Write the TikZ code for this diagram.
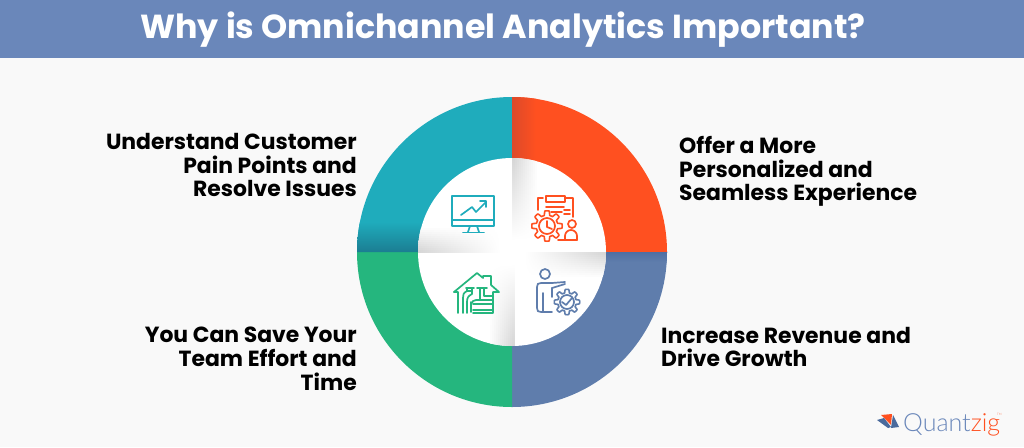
\documentclass[tikz,border=0pt]{standalone}
\usepackage{fontspec}
\setmainfont{Poppins}
\newfontfamily\logofont{Lato Light}
\usetikzlibrary{calc}
\definecolor{bgc}{HTML}{F9F9F9}
\definecolor{headc}{HTML}{6A87BA}
\definecolor{tealc}{HTML}{1FACBC}
\definecolor{orangec}{HTML}{FF5020}
\definecolor{greenc}{HTML}{25B67E}
\definecolor{bluec}{HTML}{5F7DAC}
\definecolor{tealdark}{HTML}{1B7D92}
\definecolor{orangedark}{HTML}{DC4A2A}
\definecolor{bluedark}{HTML}{4F6FA3}
\definecolor{logoblue}{HTML}{4A6A9C}
\tikzset{
  x=1pt,y=-1pt,
  title/.style={font=\bfseries\fontsize{33.3}{40}\selectfont,text=white,inner sep=0pt},
  lab/.style={font=\bfseries\fontsize{21.9}{23.8}\selectfont,text=black,inner sep=0pt},
  ico/.style={line width=1.7pt,line cap=round,line join=round,fill=none},
}
\begin{document}
\begin{tikzpicture}
\useasboundingbox (0,0) rectangle (1024,447);
\fill[bgc] (0,0) rectangle (1024,447);
\fill[headc] (0,0) rectangle (1024,58);
\node[title] (t) at (503,29.5) {Why is Omnichannel Analytics Important?};
% outer quadrants (the y axis points down, so angles run clockwise)
\coordinate (c) at (512,252);
\fill[tealc] (c) -- (357,252) arc[start angle=180,end angle=270,radius=155] -- cycle;
\fill[orangec] (c) -- (512,97) arc[start angle=270,end angle=360,radius=155] -- cycle;
\fill[bluec] (c) -- (667,252) arc[start angle=0,end angle=90,radius=155] -- cycle;
\fill[greenc] (c) -- (512,407) arc[start angle=90,end angle=180,radius=155] -- cycle;
% shades on coloured parts
\begin{scope}
\clip (c) -- (357,252) arc[start angle=180,end angle=270,radius=155] -- cycle;
\shade[top color=tealc,bottom color=tealdark] (357,222) rectangle (512,252);
\end{scope}
\begin{scope}
\clip (c) -- (512,97) arc[start angle=270,end angle=360,radius=155] -- cycle;
\shade[left color=orangedark,right color=orangec] (512,97) rectangle (536,252);
\end{scope}
\begin{scope}
\clip (c) -- (667,252) arc[start angle=0,end angle=90,radius=155] -- cycle;
\shade[top color=bluedark,bottom color=bluec] (512,252) rectangle (667,262);
\end{scope}
% inner disc
\fill[white] (c) circle[radius=94];
\begin{scope}
\clip (c) circle[radius=94];
\foreach \k in {0,...,11}{
  \pgfmathsetmacro\g{16*(\k+1)/12}
  \shade[left color=black!\g,right color=white] (418,{228+2*\k}) rectangle (500,{230.4+2*\k});
  \shade[left color=white,right color=black!\g] (524,{274-2*\k}) rectangle (606,{276.4-2*\k});
  \shade[top color=black!\g,bottom color=white] ({534-2*\k},158) rectangle ({536.4-2*\k},240);
  \shade[top color=white,bottom color=black!\g] ({490+2*\k},264) rectangle ({492.4+2*\k},346);
}
\end{scope}
% labels
\node[lab,anchor=east,align=right] (a) at (357,165) {Understand Customer\\Pain Points and\\Resolve Issues};
\node[lab,anchor=west,align=left] (b) at (679,171.5) {Offer a More\\Personalized and\\Seamless Experience};
\node[lab,anchor=west,align=left] (d) at (661,347) {Increase Revenue and\\Drive Growth};
\node[lab,anchor=east,align=right] (e) at (357,359) {You Can Save Your\\Team Effort and\\Time};
% monitor icon
\begin{scope}[tealc,ico]
\draw (452,196) rectangle (494,226);
\draw (452,220) -- (494,220);
\draw (470,226) -- (468,232) (477,226) -- (479,232);
\draw (463,232.5) -- (484,232.5);
\draw (461,215) -- (472,207) -- (476,212) -- (486,202);
\draw (480,201) -- (486,201) -- (486,207);
\end{scope}
% clipboard, gear, person icon
\begin{scope}[orangec,ico]
\draw (543,198) -- (538,198) -- (538,210);
\draw (546,196) rectangle (565,202);
\draw (565,198) -- (573,198) -- (573,217);
\draw (546,207) -- (564,207);
\draw (551,212) -- (562,212) (564,210) -- (570,210) (564,214) -- (570,214);
\draw[shift={(547,226)},line width=1.6pt] plot[domain=0:360,samples=145] (\x:{13+2.2*min(1,max(-1,2.5*cos(8*\x)))}) -- cycle;
\draw (547,226) circle[radius=8];
\draw (547,221) -- (547,227) -- (552,229);
\draw (572,224) circle[radius=4];
\draw (565,240) -- (565,236) arc[start angle=180,end angle=360,radius=6] -- (577,240);
\draw (558,240) -- (577,240);
\end{scope}
% house icon
\begin{scope}[greenc,ico]
\draw (454,292) -- (477,273) -- (483,278) -- (483,276) -- (491,276) -- (491,285) -- (499,292) -- (493,292) -- (493,313) -- (473,313);
\draw (454,292) -- (458,292) -- (458,313);
\draw (466,288) -- (474,288) (477,288) -- (487,288);
\draw (467,288) -- (467,291) -- (472,291) -- (472,288);
\draw (467,291) .. controls (463,293) and (463,295) .. (463,298) -- (463,313);
\draw (472,291) -- (472,294) .. controls (468,296) and (467,298) .. (467,302) -- (467,313);
\draw (480,288) -- (480,300) -- (476,300) .. controls (473,300) and (472,302) .. (472,303);
\draw (484,288) -- (484,296) -- (492,296);
\draw (480,300) -- (492,300);
\draw (471,302) -- (471,312);
\draw (473,304) -- (492,304) (473,310) -- (492,310);
\end{scope}
% person and check gear icon
\begin{scope}[bluec,ico]
\draw (545,274) circle[radius=5];
\draw (552,283) -- (541,283) .. controls (538,283) and (537,284) .. (537,287) -- (537,308) .. controls (537,311) and (538,312) .. (541,312) -- (552,312);
\draw (552,283) -- (565,282);
\draw (552,288) -- (565,284);
\draw (552,288) -- (552,297);
\draw (543,293) -- (543,312);
\draw[shift={(567,302)},line width=1.6pt] plot[domain=0:360,samples=145] (\x:{11+1.7*min(1,max(-1,2.5*cos(8*\x)))}) -- cycle;
\draw (567,302) circle[radius=7];
\draw (562,302) -- (566,305) -- (572,298);
\end{scope}
% logo
\fill[orangec] (881,415) -- (892,414) -- (891,425) -- cycle;
\fill[logoblue] (877,420) -- (884,418) -- (891,427) -- (888,428) -- cycle;
\fill[logoblue] (893,415) -- (899,427) -- (891,428) -- cycle;
\node[inner sep=0pt,anchor=base west,font=\logofont\fontsize{25}{25}\selectfont] (l) at (903,431) {\textcolor{headc}{Quant}\textcolor{orangec}{zig}};
\node[inner sep=0pt,anchor=base west,font=\logofont\fontsize{3}{3}\selectfont,text=orangec] (tm) at (997,415) {TM};
\end{tikzpicture}
\end{document}
